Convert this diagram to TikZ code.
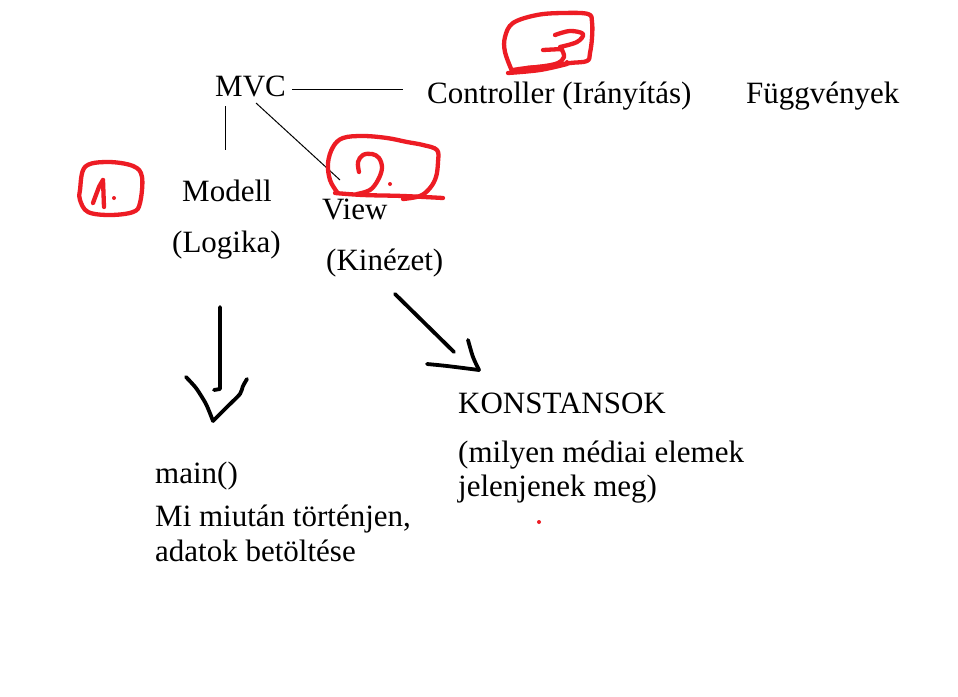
\documentclass[tikz,border=0pt]{standalone}
\usepackage{fontspec}
\setmainfont{Liberation Serif}
\definecolor{pen}{RGB}{237,28,36}
\tikzset{
  txt/.style={anchor=base west, inner sep=0pt, font=\fontsize{31}{36}\selectfont},
  thinline/.style={line width=1pt, black},
  thickpen/.style={line width=3.8pt, black, line cap=round, line join=round},
  redpen/.style={line width=4.3pt, pen, line cap=round, line join=round},
  reddot/.style={fill=pen, draw=none}
}
\begin{document}
\begin{tikzpicture}[x=1pt,y=-1pt]
\useasboundingbox[fill=white] (0,0) rectangle (958,696);

% text nodes
\node[txt] (mvc) at (215,96) {MVC};
\node[txt] (ctrl) at (427,103) {Controller (Irányítás)};
\node[txt] (fugg) at (746,103) {Függvények};
\node[txt] (modell) at (182,201) {Modell};
\node[txt] (logika) at (172,252) {(Logika)};
\node[txt] (view) at (322,219) {View};
\node[txt] (kinezet) at (326,270) {(Kinézet)};
\node[txt] (main) at (155,483) {main()};
\node[txt] (mi) at (155,526) {Mi miután történjen,};
\node[txt] (adatok) at (155,561) {adatok betöltése};
\node[txt] (konst) at (458,413) {KONSTANSOK};
\node[txt] (milyen) at (458,462) {(milyen médiai elemek};
\node[txt] (jelen) at (458,496) {jelenjenek meg)};

% connector end points
\coordinate (mvcR) at (292,89);
\coordinate (ctrlL) at (403,89);
\coordinate (mvcB) at (225,106);
\coordinate (modellT) at (225,150);
\coordinate (mvcD) at (256,103);
\coordinate (viewT) at (340,180);
\draw[thinline] (mvcR) -- (ctrlL);
\draw[thinline] (mvcB) -- (modellT);
\draw[thinline] (mvcD) -- (viewT);

% hand-drawn arrows
\coordinate (logikaB) at (220,307);
\coordinate (mainT) at (213,421);
\draw[thickpen] (logikaB) -- (220,389) -- (214,390);
\draw[thickpen] plot[smooth, tension=0.4] coordinates {(186,377) (196,388) (206,404) (213,421)};
\draw[thickpen] plot[smooth, tension=0.4] coordinates {(213,421) (228,406) (240,394) (243,386) (247,379)};

\coordinate (kinezetB) at (395,294);
\coordinate (konstT) at (479,370);
\draw[thickpen] (kinezetB) -- (454,352);
\draw[thickpen] plot[smooth, tension=0.5] coordinates {(468,340) (473,357) (479,370)};
\draw[thickpen] plot[smooth, tension=0.5] coordinates {(427,364) (447,366) (479,370)};

% red annotation 3
\draw[redpen] plot[smooth, tension=0.6] coordinates {(512,71) (505,52) (505,37) (513,23) (537,15) (563,13) (588,14) (592,22) (592,38) (590,53) (587,61) (570,63) (550,66) (527,68) (513,70)};
\draw[redpen] plot[smooth, tension=0.6] coordinates {(508,73) (540,70) (567,64)};
\draw[redpen] plot[smooth, tension=0.6] coordinates {(555,35) (570,31) (583,34) (577,42) (560,47)};
\draw[redpen] plot[smooth, tension=0.6] coordinates {(543,50) (562,49)};
\draw[redpen] plot[smooth, tension=0.6] coordinates {(562,50) (564,57) (558,63) (545,66) (527,68)};
\fill[reddot] (567,62) circle (2);

% red annotation 2
\draw[redpen] plot[smooth, tension=0.6] coordinates {(337,192) (330,180) (328,163) (333,147) (343,138) (363,136) (387,138) (407,142) (423,145) (437,150) (438,162) (436,177) (430,188) (420,196) (403,199)};
\draw[redpen] plot[smooth, tension=0.6] coordinates {(335,193) (363,195) (403,196) (443,198)};
\draw[redpen] plot[smooth, tension=0.6] coordinates {(359,172) (358,162) (363,155) (372,154) (379,158) (382,168) (378,180) (370,190) (357,194)};
\fill[reddot] (390,184) circle (2);

% red annotation 1
\draw[redpen] plot[smooth cycle, tension=0.6] coordinates {(80,190) (85,167) (107,162) (133,166) (142,177) (140,203) (133,212) (110,215) (88,212) (80,200)};
\draw[redpen] plot[smooth, tension=0.3] coordinates {(93,203) (99,187) (103,180)};
\draw[redpen] (103,180) -- (104,207);
\fill[reddot] (114,198) circle (2);

% stray red dot
\fill[reddot] (539,522) circle (2);
\end{tikzpicture}
\end{document}
